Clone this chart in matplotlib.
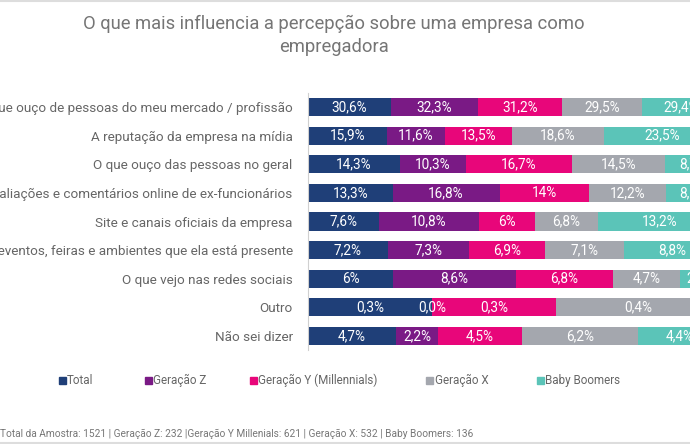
import matplotlib
matplotlib.use("Agg")
import matplotlib.pyplot as plt
from matplotlib.patches import Rectangle
from matplotlib.lines import Line2D
import numpy as np

plt.rcParams['font.family'] = ['Roboto', 'DejaVu Sans']

categories = [
    "O que ouço de pessoas do meu mercado / profissão",
    "A reputação da empresa na mídia",
    "O que ouço das pessoas no geral",
    "Avaliações e comentários online de ex-funcionários",
    "Site e canais oficiais da empresa",
    "Os eventos, feiras e ambientes que ela está presente",
    "O que vejo nas redes sociais",
    "Outro",
    "Não sei dizer",
]
series_names = ["Total", "Geração Z", "Geração Y (Millennials)", "Geração X", "Baby Boomers"]
total = [30.6, 15.9, 14.3, 13.3, 7.6, 7.2, 6.0, 0.3, 4.7]
gen_z = [32.3, 11.6, 10.3, 16.8, 10.8, 7.3, 8.6, 0.0, 2.2]
gen_y = [31.2, 13.5, 16.7, 14.0, 6.0, 6.9, 6.8, 0.3, 4.5]
gen_x = [29.5, 18.6, 14.5, 12.2, 6.8, 7.1, 4.7, 0.4, 6.2]
boomers = [29.4, 23.5, 8.7, 8.6, 13.2, 8.8, 2.9, 0.0, 4.4]
colors = ["#1f3f78", "#7a1a85", "#e8067a", "#a4a7ae", "#5bc4b8"]
footer = "Total da Amostra: 1521 | Geração Z: 232 |Geração Y Millenials: 621 | Geração X: 532 | Baby Boomers: 136"
title = "O que mais influencia a percepção sobre uma empresa como\nempregadora"

W, H = 690, 444
fig = plt.figure(figsize=(W / 100, H / 100), dpi=100)
fig.patch.set_facecolor("white")

x0, x1 = 308, 721
ytop, ybot = 92.7, 350.3
ax = fig.add_axes([x0 / W, 1 - ybot / H, (x1 - x0) / W, (ybot - ytop) / H])

data = np.array([total, gen_z, gen_y, gen_x, boomers])
sums = data.sum(axis=0)
frac = data / sums * 100
y = np.arange(len(categories))
left = np.zeros(len(categories))
for i, name in enumerate(series_names):
    ax.barh(y, frac[i], left=left, height=0.63, color=colors[i], label=name, clip_on=False)
    for j in range(len(categories)):
        v = data[i][j]
        if i == 4 and v == 0:
            continue
        s = ("%g" % v).replace(".", ",") + "%"
        if v == 0:
            s = "0,0%"
        ax.text(left[j] + frac[i][j] / 2, y[j], s, ha="center", va="center",
                color="white", fontsize=9.8, clip_on=False)
    left += frac[i]

ax.set_xlim(0, 100)
ax.set_ylim(len(categories) - 0.5, -0.5)
for sp in ["top", "right", "bottom"]:
    ax.spines[sp].set_visible(False)
ax.spines["left"].set_color("#d0d0d0")
ax.spines["left"].set_linewidth(0.8)
ax.set_xticks([])
ax.set_yticks(y)
ax.set_yticklabels(categories, fontsize=9.7, color="#666666")
ax.tick_params(axis="y", length=0, pad=11)

fig.text(334 / W, 1 - 35 / H, title, ha="center", va="center", fontsize=13.2,
         color="#757575", linespacing=1.35)

# legend
leg_x = [62, 148, 253, 430, 540]
narrow = ['Liberation Sans Narrow', 'Roboto', 'DejaVu Sans']
for name, c, lx in zip(series_names, colors, leg_x):
    fig.add_artist(Rectangle(((lx - 3.5) / W, 1 - 383.5 / H), 7 / W, 7 / H,
                             transform=fig.transFigure, color=c))
    fig.text((lx + 5) / W, 1 - 380 / H, name, ha="left", va="center",
             fontsize=8.4, color="#666666", family=narrow)

fig.text(0.0, 1 - 434 / H, footer, ha="left", va="center", fontsize=7.3,
         color="#777777", family=narrow)

fig.add_artist(Line2D([0, 1], [1 - 0.8 / H, 1 - 0.8 / H], transform=fig.transFigure,
                      color="#dddddd", lw=1.5))
fig.add_artist(Line2D([0, 1], [1.2 / H, 1.2 / H], transform=fig.transFigure,
                      color="#dddddd", lw=1.5))

fig.savefig("out.png", dpi=100)
